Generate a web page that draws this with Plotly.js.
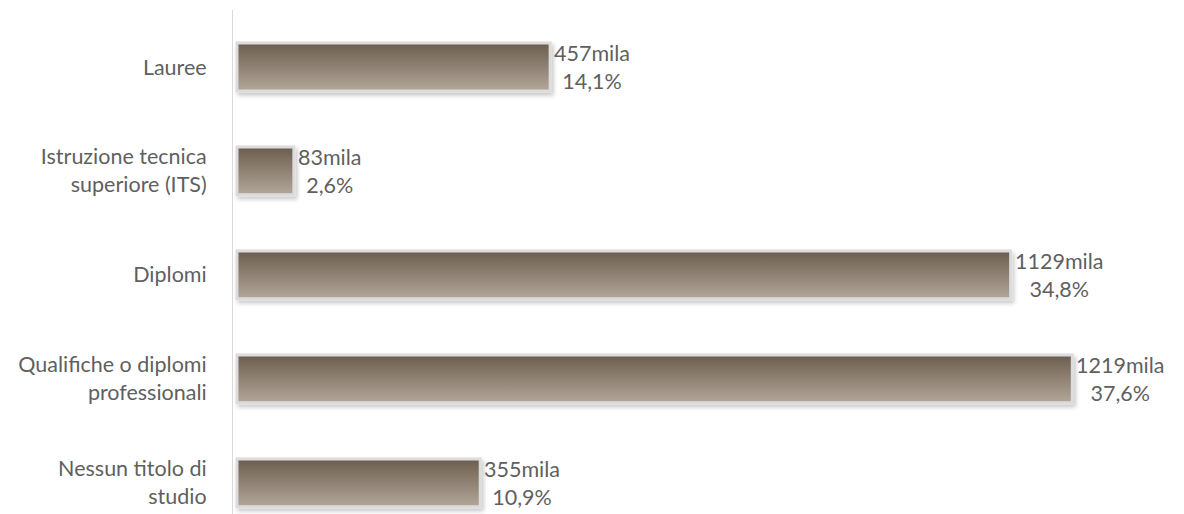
<!DOCTYPE html>
<html><head><meta charset="utf-8">
<script src="https://cdn.plot.ly/plotly-3.0.1.min.js"></script>
<style>html,body{margin:0;padding:0;background:#fff}#chart{width:1184px;height:514px}</style>
</head><body><div id="chart"></div>
<script>
const categories = ["Lauree", "Istruzione tecnica<br>superiore (ITS)", "Diplomi", "Qualifiche o diplomi<br>professionali", "Nessun titolo di<br>studio"];
const valuesMila = [457, 83, 1129, 1219, 355];
const percentLabels = ["14,1%", "2,6%", "34,8%", "37,6%", "10,9%"];

const font = "Lato, 'Open Sans', sans-serif";
const trace = {
  type: 'bar', orientation: 'h',
  x: valuesMila, y: categories,
  width: 0.46,
  marker: {color: '#8f8173', line: {color: '#dcdcdc', width: 3}},
  hoverinfo: 'none'
};
const annotations = valuesMila.map((v, i) => ({
  x: v, y: categories[i], xref: 'x', yref: 'y',
  text: v + 'mila<br>' + percentLabels[i],
  showarrow: false, xanchor: 'left', yanchor: 'middle', align: 'center', xshift: 2,
  font: {family: font, size: 21.5, color: '#5f5f5f'}
}));
const layout = {
  width: 1184, height: 514,
  margin: {l: 233, r: 0, t: 10, b: 0},
  paper_bgcolor: '#fff', plot_bgcolor: '#fff',
  showlegend: false,
  xaxis: {range: [-5.8, 1382], visible: false, fixedrange: true},
  yaxis: {type: 'category', range: [4.3, -0.548], showline: true, linecolor: '#d9d9d9', linewidth: 1,
          showgrid: false, zeroline: false, ticks: '', ticklabelstandoff: 21,
          tickfont: {family: font, size: 21.5, color: '#5f5f5f'}},
  annotations: annotations
};
Plotly.newPlot('chart', [trace], layout, {staticPlot: true}).then(gd => {
  const svg = gd.querySelector('svg.main-svg');
  const ns = 'http://www.w3.org/2000/svg';
  let defs = svg.querySelector('defs');
  const lg = document.createElementNS(ns, 'linearGradient');
  lg.setAttribute('id', 'barGrad'); lg.setAttribute('x1', '0'); lg.setAttribute('y1', '0');
  lg.setAttribute('x2', '0'); lg.setAttribute('y2', '1');
  [['0', '#6b5d4e'], ['1', '#b3a79b']].forEach(([o, c]) => {
    const s = document.createElementNS(ns, 'stop'); s.setAttribute('offset', o); s.setAttribute('stop-color', c); lg.appendChild(s);
  });
  defs.appendChild(lg);
  const f = document.createElementNS(ns, 'filter');
  f.setAttribute('id', 'barShadow'); f.setAttribute('x', '-5%'); f.setAttribute('y', '-20%'); f.setAttribute('width', '115%'); f.setAttribute('height', '160%');
  f.innerHTML = '<feDropShadow dx="2" dy="3" stdDeviation="2" flood-color="#000" flood-opacity="0.22"/>';
  defs.appendChild(f);
  gd.querySelectorAll('.bars .point path').forEach(p => {
    p.style.fill = 'url(#barGrad)';
    p.setAttribute('filter', 'url(#barShadow)');
  });
});
</script></body></html>
